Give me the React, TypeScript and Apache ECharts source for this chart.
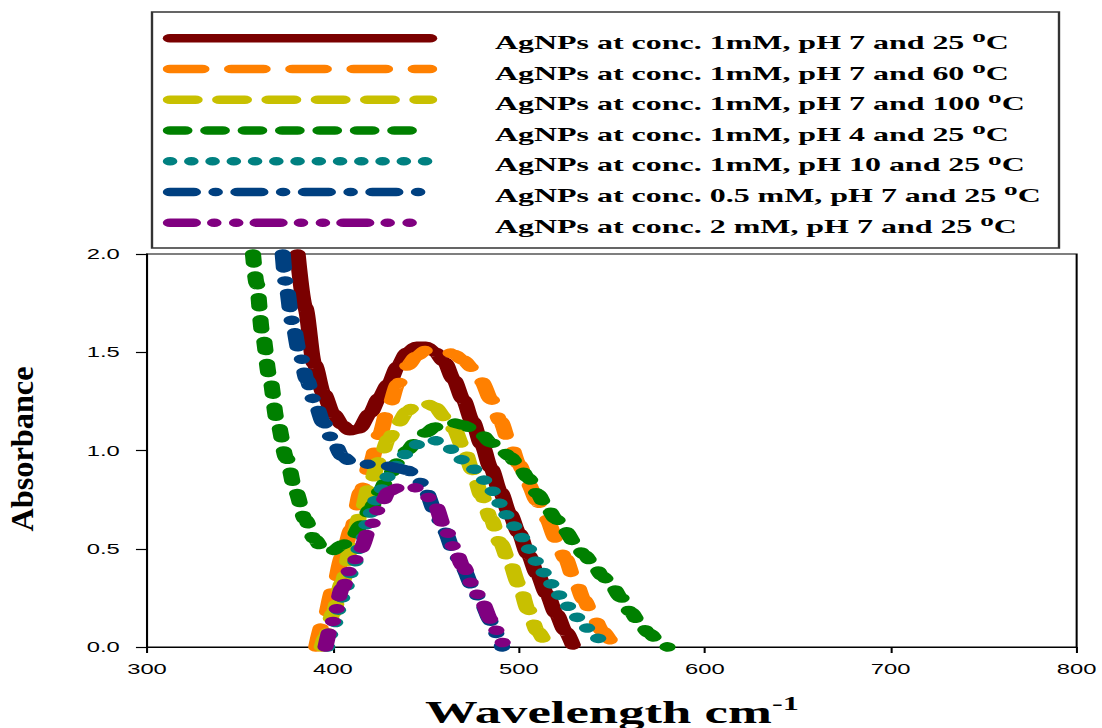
import React, { useEffect, useRef } from "react";
import * as echarts from "echarts";

// The reference picture is stretched horizontally; we render at a narrower width and stretch.
const STRETCH = 1.7;
const FULL_W = 1102;
const W = FULL_W / STRETCH;
const H = 728;

const seriesNames = [
  "AgNPs at conc. 1mM, pH 7 and 25 ",
  "AgNPs at conc. 1mM, pH 7 and 60 ",
  "AgNPs at conc. 1mM, pH 7 and 100 ",
  "AgNPs at conc. 1mM, pH 4 and 25 ",
  "AgNPs at conc. 1mM, pH 10 and 25 ",
  "AgNPs at conc. 0.5 mM, pH 7 and 25 ",
  "AgNPs at conc. 2 mM, pH 7 and 25 ",
];

const colors = ["#7a0000", "#ff8000", "#c8c000", "#008000", "#008080", "#004080", "#800080"];

const dashes: (number[] | "solid")[] = [
  "solid",
  [19, 17],
  [15, 14],
  [9, 13],
  [0.1, 12.4],
  [14, 12.8, 0.1, 12.8],
  [14, 12, 0.1, 12.8, 0.1, 12],
];

// 1mM, pH 7, 25 °C
const wl1 = [381, 385, 390, 395, 400, 405, 409, 414, 420, 425, 430, 435, 440, 445, 450, 455, 460, 465, 470, 475, 480, 485, 490, 495, 500, 505, 510, 515, 520, 525, 529];
const ab1 = [2.0, 1.73, 1.44, 1.29, 1.19, 1.13, 1.1, 1.11, 1.19, 1.27, 1.34, 1.43, 1.5, 1.53, 1.53, 1.5, 1.45, 1.36, 1.26, 1.15, 1.03, 0.91, 0.79, 0.68, 0.58, 0.47, 0.37, 0.27, 0.17, 0.08, 0.01];

// 1mM, pH 7, 60 °C
const wl2 = [391, 395, 400, 405, 410, 415, 420, 425, 430, 435, 440, 445, 450, 455, 460, 465, 470, 475, 480, 485, 490, 495, 500, 505, 510, 515, 520, 525, 530, 535, 540, 545, 550, 552];
const ab2 = [0.0, 0.13, 0.29, 0.46, 0.6, 0.79, 0.93, 1.08, 1.22, 1.34, 1.43, 1.48, 1.51, 1.52, 1.51, 1.49, 1.46, 1.42, 1.35, 1.26, 1.15, 1.04, 0.93, 0.83, 0.74, 0.65, 0.55, 0.45, 0.34, 0.24, 0.15, 0.08, 0.03, 0.0];

// 1mM, pH 7, 100 °C
const wl3 = [394, 396, 400, 405, 410, 415, 420, 425, 430, 435, 440, 445, 450, 455, 460, 465, 470, 475, 480, 485, 490, 495, 500, 505, 510, 515];
const ab3 = [0.0, 0.05, 0.17, 0.33, 0.52, 0.68, 0.83, 0.95, 1.06, 1.14, 1.2, 1.24, 1.24, 1.22, 1.17, 1.11, 1.02, 0.9, 0.77, 0.65, 0.53, 0.43, 0.32, 0.19, 0.08, 0.0];

// 1mM, pH 4, 25 °C
const wl4 = [357, 359, 362, 366, 370, 375, 380, 385, 390, 395, 400, 405, 410, 415, 420, 425, 430, 435, 440, 445, 450, 455, 460, 465, 470, 475, 480, 485, 490, 495, 500, 505, 510, 515, 520, 525, 530, 535, 540, 545, 550, 555, 560, 565, 570, 575, 580];
const ab4 = [2.0, 1.85, 1.6, 1.37, 1.15, 0.96, 0.79, 0.65, 0.55, 0.49, 0.49, 0.52, 0.55, 0.62, 0.7, 0.79, 0.87, 0.94, 1.0, 1.05, 1.09, 1.12, 1.14, 1.14, 1.13, 1.11, 1.08, 1.04, 1.01, 0.97, 0.92, 0.86, 0.78, 0.71, 0.65, 0.59, 0.53, 0.47, 0.42, 0.36, 0.31, 0.25, 0.18, 0.12, 0.07, 0.03, 0.0];

// 1mM, pH 10, 25 °C
const wl5 = [397, 400, 405, 410, 415, 420, 425, 430, 435, 440, 445, 450, 455, 460, 465, 470, 475, 480, 485, 490, 495, 500, 505, 510, 515, 520, 525, 530, 535, 540, 545];
const ab5 = [0.0, 0.1, 0.25, 0.38, 0.52, 0.68, 0.79, 0.87, 0.93, 0.99, 1.03, 1.05, 1.05, 1.03, 1.0, 0.95, 0.91, 0.86, 0.8, 0.73, 0.65, 0.58, 0.5, 0.43, 0.36, 0.28, 0.22, 0.16, 0.11, 0.06, 0.02];

// 0.5 mM, pH 7, 25 °C
const wl6 = [373, 375, 378, 382, 386, 390, 395, 400, 405, 410, 415, 420, 425, 430, 435, 440, 445, 450, 455, 460, 465, 470, 475, 480, 485, 490, 491];
const ab6 = [2.0, 1.83, 1.66, 1.5, 1.36, 1.25, 1.14, 1.05, 0.97, 0.94, 0.93, 0.93, 0.92, 0.92, 0.91, 0.9, 0.87, 0.79, 0.69, 0.59, 0.49, 0.4, 0.31, 0.22, 0.13, 0.03, 0.0];

// 2 mM, pH 7, 25 °C
const wl7 = [396, 400, 405, 410, 415, 420, 425, 430, 435, 440, 445, 450, 455, 460, 465, 470, 475, 480, 485, 490, 492];
const ab7 = [0.0, 0.13, 0.3, 0.41, 0.5, 0.61, 0.71, 0.79, 0.81, 0.82, 0.81, 0.77, 0.72, 0.61, 0.51, 0.41, 0.32, 0.23, 0.14, 0.05, 0.0];

const wavelengths = [wl1, wl2, wl3, wl4, wl5, wl6, wl7];
const absorbances = [ab1, ab2, ab3, ab4, ab5, ab6, ab7];

const xTicks = { min: 300, max: 800, interval: 100 };
const yTicks = { min: 0, max: 2, interval: 0.5 };

export default function App() {
  const ref = useRef<HTMLDivElement>(null);

  useEffect(() => {
    if (!ref.current) return;
    const chart = echarts.init(ref.current, null, { renderer: "svg" });
    const sx = (px: number) => px / STRETCH;

    const series = wavelengths.map((wl, i) => ({
      name: seriesNames[i],
      type: "line",
      data: wl.map((x, j) => [x, absorbances[i][j]]),
      symbol: "none",
      showSymbol: false,
      clip: false,
      smooth: 0.3,
      smoothMonotone: "x",
      z: 2 + i,
      lineStyle: {
        color: colors[i],
        width: 9.5,
        type: dashes[i],
        cap: "round",
        join: "round",
      },
    }));

    const legendGraphics: any[] = [
      {
        type: "rect",
        shape: { x: sx(152), y: 12, width: sx(907), height: 236 },
        style: { fill: "#fff", stroke: "#333", lineWidth: 1.4 },
        z: 1,
      },
    ];
    seriesNames.forEach((name, i) => {
      const ly = 38.3 + i * 30.73;
      const ty = 42.8 + i * 30.65;
      legendGraphics.push({
        type: "line",
        shape: { x1: sx(170), y1: ly, x2: sx(430), y2: ly },
        style: {
          stroke: colors[i],
          lineWidth: 8.5,
          lineDash: dashes[i] === "solid" ? null : dashes[i],
          lineCap: "round",
        },
        z: 2,
      });
      legendGraphics.push({
        type: "text",
        x: sx(495),
        y: ty,
        style: {
          text: `{t|${name}}{s|o}{t|C}`,
          align: "left",
          verticalAlign: "middle",
          rich: {
            t: { fontSize: 18.8, fontWeight: "bold", fontFamily: "Liberation Serif", lineHeight: 28, fill: "#000" },
            s: { fontSize: 16, fontWeight: "bold", fontFamily: "Liberation Serif", lineHeight: 16, verticalAlign: "top", fill: "#000" },
          },
        },
        z: 2,
      });
    });

    const titleGraphics: any[] = [
      {
        type: "text",
        x: sx(425),
        y: 712,
        style: {
          text: "{t|Wavelength cm}{s|-1}",
          align: "left",
          verticalAlign: "middle",
          rich: {
            t: { fontSize: 31, fontWeight: "bold", fontFamily: "Liberation Serif", lineHeight: 36, fill: "#000" },
            s: { fontSize: 19, fontWeight: "bold", fontFamily: "Liberation Serif", lineHeight: 19, verticalAlign: "top", fill: "#000" },
          },
        },
      },
      {
        type: "text",
        x: sx(22),
        y: 449,
        rotation: Math.PI / 2,
        scaleX: 1.7,
        style: {
          text: "Absorbance",
          fontSize: 19,
          fontWeight: "bold",
          fontFamily: "Liberation Serif",
          align: "center",
          verticalAlign: "middle",
          fill: "#000",
        },
      },
    ];

    chart.setOption({
      animation: false,
      backgroundColor: "#fff",
      grid: {
        left: sx(147),
        right: sx(FULL_W - 1079),
        top: 254,
        bottom: H - 647,
        show: true,
        borderColor: "#000",
        borderWidth: 1.2,
        backgroundColor: "transparent",
      },
      xAxis: {
        type: "value",
        min: xTicks.min,
        max: xTicks.max,
        interval: xTicks.interval,
        axisLine: { show: true, lineStyle: { color: "#000", width: 1.2 } },
        axisTick: { show: true, length: 6, lineStyle: { color: "#000", width: 1.2 } },
        axisLabel: { color: "#000", fontFamily: "Liberation Sans", fontSize: 14, margin: 15 },
        splitLine: { show: false },
      },
      yAxis: {
        type: "value",
        min: yTicks.min,
        max: yTicks.max,
        interval: yTicks.interval,
        axisLine: { show: true, lineStyle: { color: "#000", width: 1.2 } },
        axisTick: { show: true, length: 6.5, lineStyle: { color: "#000", width: 1.2 } },
        axisLabel: {
          color: "#000",
          fontFamily: "Liberation Sans",
          fontSize: 14,
          margin: 16,
          formatter: (v: number) => v.toFixed(1),
        },
        splitLine: { show: false },
      },
      series,
      graphic: [...legendGraphics, ...titleGraphics],
    } as any);

    return () => chart.dispose();
  }, []);

  return (
    <div
      ref={ref}
      style={{
        position: "absolute",
        left: 0,
        top: 0,
        width: W,
        height: H,
        transform: `scaleX(${STRETCH})`,
        transformOrigin: "0 0",
      }}
    />
  );
}
